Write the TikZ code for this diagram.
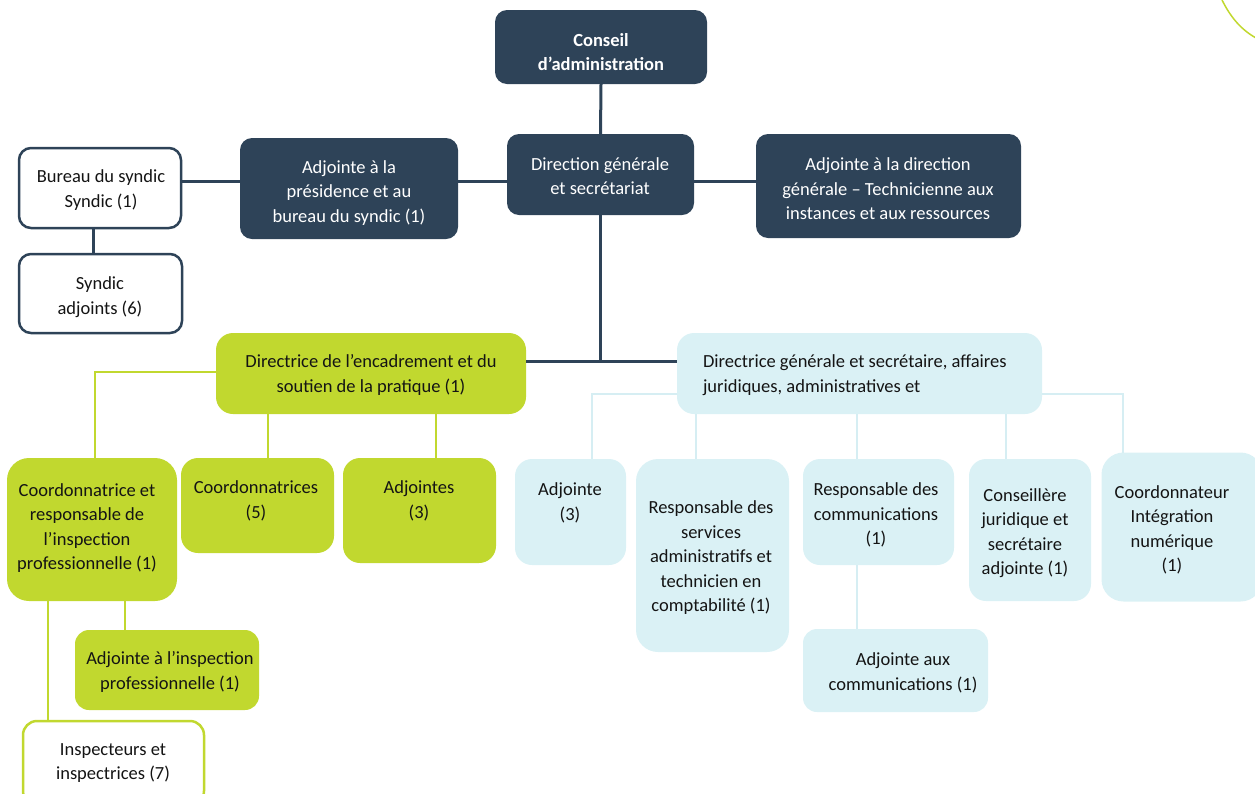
\documentclass[tikz,border=0pt]{standalone}
\usepackage{fontspec}
\setmainfont{Carlito}
\definecolor{navy}{RGB}{46,67,88}
\definecolor{lime}{RGB}{193,216,47}
\definecolor{pale}{RGB}{218,241,245}
\definecolor{paleline}{RGB}{214,238,243}
\definecolor{ink}{RGB}{20,20,20}
\tikzset{
  base/.style={inner sep=0pt, outer sep=0pt},
  darkbox/.style={base, fill=navy, rounded corners=12pt},
  wbox/.style={base, fill=white, draw=navy, line width=2.5pt, rounded corners=12pt},
  gbox/.style={base, fill=lime, rounded corners=17pt},
  gwbox/.style={base, fill=white, draw=lime, line width=2.5pt, rounded corners=14pt},
  bbox/.style={base, fill=pale, rounded corners=17pt},
  txt/.style={base, yshift=-3pt, align=center, text=ink, font=\fontsize{18.5}{24.5}\selectfont},
  wtxt/.style={txt, text=white},
  dline/.style={draw=navy, line width=3pt},
  gline/.style={draw=lime, line width=2.5pt},
  bline/.style={draw=paleline, line width=2.5pt},
}
\begin{document}
\begin{tikzpicture}[x=1pt,y=-1pt]
\useasboundingbox (0,0) rectangle (1255,793);
% boxes
\node[darkbox, minimum width=212pt, minimum height=74pt] (ca) at (601,47) {};
\node[darkbox, minimum width=187pt, minimum height=81pt] (dg) at (600.5,174.5) {};
\node[darkbox, minimum width=218pt, minimum height=101pt] (apb) at (349,188.5) {};
\node[darkbox, minimum width=265pt, minimum height=104pt] (adg) at (888.5,186) {};
\node[wbox, minimum width=162pt, minimum height=80pt] (bur) at (100,188) {};
\node[wbox, minimum width=163pt, minimum height=79pt] (sa) at (100.5,293.5) {};
\node[gbox, minimum width=310pt, minimum height=81pt] (dec) at (371,373.5) {};
\node[bbox, minimum width=365pt, minimum height=81pt] (dga) at (859.5,373.5) {};
\node[gbox, rounded corners=22pt, minimum width=170pt, minimum height=143pt] (co1) at (92,529.5) {};
\node[gbox, minimum width=153pt, minimum height=95pt] (cos) at (257.5,505.5) {};
\node[gbox, minimum width=153pt, minimum height=105pt] (ads) at (419.5,510.5) {};
\node[gbox, rounded corners=14pt, minimum width=184pt, minimum height=80pt] (aip) at (167,670) {};
\node[gwbox, minimum width=181pt, minimum height=84pt] (insp) at (113.5,763) {};
\node[bbox, minimum width=111pt, minimum height=106pt] (adj3) at (570.5,512) {};
\node[bbox, rounded corners=22pt, minimum width=153pt, minimum height=193pt] (rsa) at (712.5,555.5) {};
\node[bbox, minimum width=151pt, minimum height=106pt] (rc) at (878.5,512) {};
\node[bbox, minimum width=122pt, minimum height=142pt] (cj) at (1030,530) {};
\node[bbox, rounded corners=22pt, minimum width=161pt, minimum height=149pt] (ci) at (1182,527) {};
\node[bbox, rounded corners=14pt, minimum width=185pt, minimum height=83pt] (ac) at (895.5,670.5) {};
% texts
\node[wtxt, font=\fontsize{18.5}{24.5}\selectfont\bfseries] (ca-t) at (601,49) {Conseil\\d’administration};
\node[wtxt] (dg-t) at (600,173) {Direction générale\\et secrétariat};
\node[wtxt] (apb-t) at (349,190) {Adjointe à la\\présidence et au\\bureau du syndic (1)};
\node[wtxt] (adg-t) at (888,186) {Adjointe à la direction\\générale – Technicienne aux\\instances et aux ressources};
\node[txt] (bur-t) at (101,187) {Bureau du syndic\\Syndic (1)};
\node[txt] (sa-t) at (100,294) {Syndic\\adjoints (6)};
\node[txt] (dec-t) at (371,372) {Directrice de l’encadrement et du\\soutien de la pratique (1)};
\node[txt, align=left, anchor=west] (dga-t) at (703,372) {Directrice générale et secrétaire, affaires\\juridiques, administratives et};
\node[txt] (co1-t) at (87,525) {Coordonnatrice et\\responsable de\\l’inspection\\professionnelle (1)};
\node[txt] (cos-t) at (256,498) {Coordonnatrices\\(5)};
\node[txt] (ads-t) at (419,498) {Adjointes\\(3)};
\node[txt] (aip-t) at (170,669) {Adjointe à l’inspection\\professionnelle (1)};
\node[txt] (insp-t) at (113,760) {Inspecteurs et\\inspectrices (7)};
\node[txt] (adj3-t) at (570,500) {Adjointe\\(3)};
\node[txt] (rsa-t) at (711,555) {Responsable des\\services\\administratifs et\\technicien en\\comptabilité (1)};
\node[txt] (rc-t) at (876,512) {Responsable des\\communications\\(1)};
\node[txt] (cj-t) at (1025,530) {Conseillère\\juridique et\\secrétaire\\adjointe (1)};
\node[txt] (ci-t) at (1172,527) {Coordonnateur\\Intégration\\numérique\\(1)};
\node[txt] (ac-t) at (903,670) {Adjointe aux\\communications (1)};
% helper coordinates
\coordinate (h1) at (0,181);
\coordinate (h2) at (0,361);
\coordinate (h3) at (95,372);
\coordinate (h4) at (0,394);
\coordinate (v1) at (93,0);
\coordinate (g1) at (268,0);
\coordinate (g2) at (436,0);
\coordinate (g3) at (125,0);
\coordinate (g4) at (48,0);
\coordinate (b0) at (592,394);
\coordinate (b1) at (696,0);
\coordinate (b2) at (857,0);
\coordinate (b3) at (1006,0);
\coordinate (b5) at (1123,394);
% dark connectors
\draw[dline] (ca.south) -- (dg.north);
\draw[dline] (bur.east |- h1) -- (apb.west |- h1);
\draw[dline] (apb.east |- h1) -- (dg.west |- h1);
\draw[dline] (dg.east |- h1) -- (adg.west |- h1);
\draw[dline] (bur.south -| v1) -- (sa.north -| v1);
\draw[dline] (dg.south) -- (dg.south |- h2);
\draw[dline] (dec.east |- h2) -- (dga.west |- h2);
% green connectors
\draw[gline] (dec.west |- h3) -- (h3) -- (co1.north -| h3);
\draw[gline] (dec.south -| g1) -- (cos.north -| g1);
\draw[gline] (dec.south -| g2) -- (ads.north -| g2);
\draw[gline] (co1.south -| g3) -- (aip.north -| g3);
\draw[gline] (co1.south -| g4) -- (insp.north -| g4);
% blue connectors
\draw[bline] (dga.west |- h4) -- (b0) -- (adj3.north -| b0);
\draw[bline] (dga.east |- h4) -- (b5) -- (ci.north -| b5);
\draw[bline] (dga.south -| b1) -- (rsa.north -| b1);
\draw[bline] (dga.south -| b2) -- (rc.north -| b2);
\draw[bline] (dga.south -| b3) -- (cj.north -| b3);
\draw[bline] (rc.south -| b2) -- (ac.north -| b2);
% decorative curve
\coordinate (d0) at (1222,0);
\coordinate (d1) at (1256,38);
\draw[draw=lime, line width=1.5pt] (d0) .. controls (1230,16) and (1240,29) .. (d1);
\end{tikzpicture}
\end{document}
